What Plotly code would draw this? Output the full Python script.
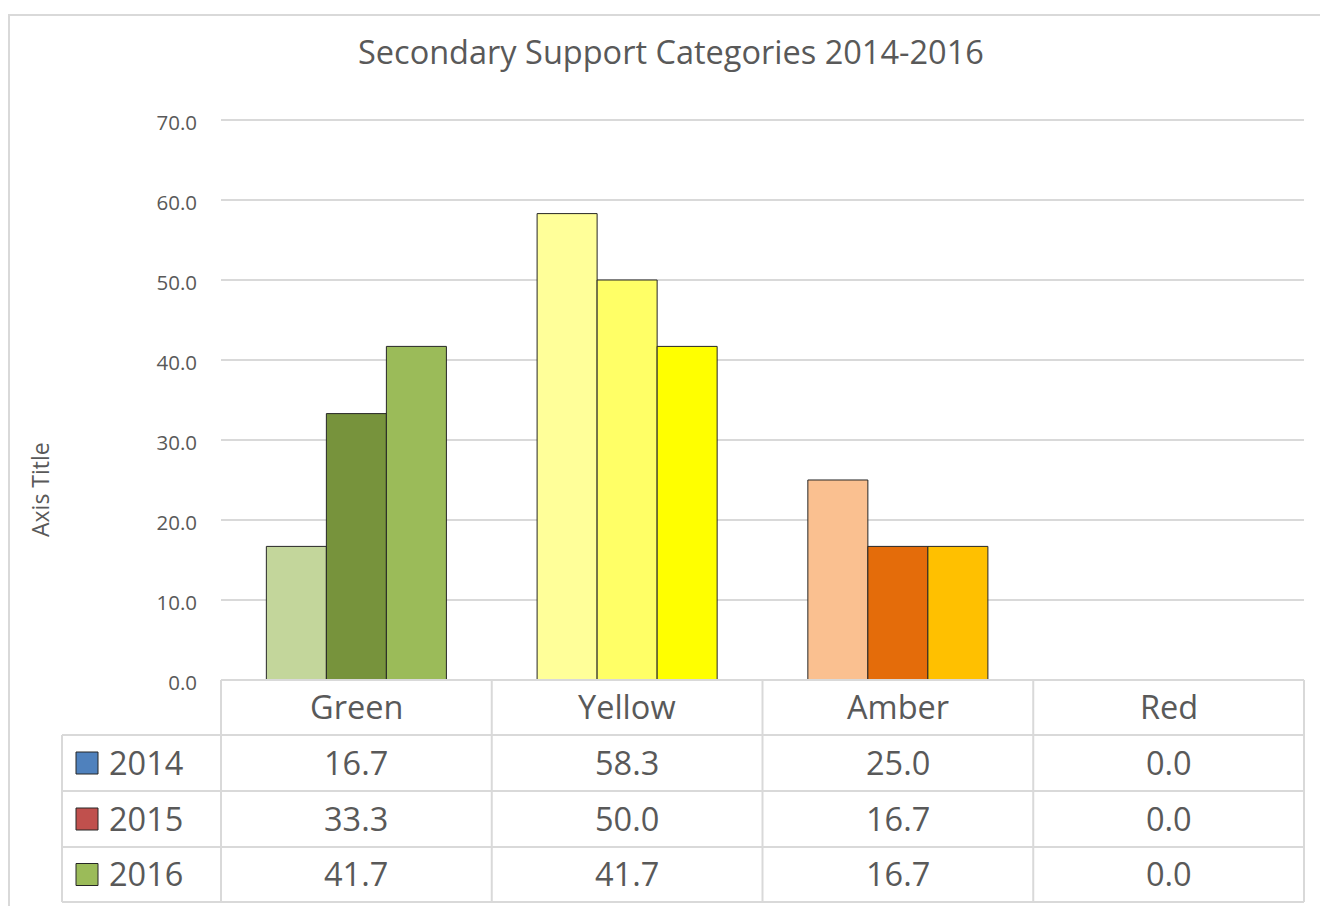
import plotly.graph_objects as go

# ---- data ----
categories = ["Green", "Yellow", "Amber", "Red"]
years = ["2014", "2015", "2016"]
values_2014 = [16.7, 58.3, 25.0, 0.0]
values_2015 = [33.3, 50.0, 16.7, 0.0]
values_2016 = [41.7, 41.7, 16.7, 0.0]
series = [values_2014, values_2015, values_2016]

# per-point colours (Excel "vary colours" look)
bar_colors = {
    "2014": ["#C3D69B", "#FFFF99", "#FAC090", "#FF9999"],
    "2015": ["#77933C", "#FFFF66", "#E46C0A", "#FF5050"],
    "2016": ["#9BBB59", "#FFFF00", "#FFC000", "#FF0000"],
}
legend_colors = ["#4F81BD", "#C0504D", "#9BBB59"]

title = "Secondary Support Categories 2014-2016"
y_title = "Axis Title"
y_ticks = [0, 10, 20, 30, 40, 50, 60, 70]

W, H = 1320, 906
FONT = "Open Sans"
TXT = "#595959"
GRID = "#D9D9D9"

def px(x):
    return x / W

def py(y):
    return 1 - y / H

plot_left, plot_right = 221, 1304
y70_px, plot_bottom = 120, 680
y_max = 70.6
plot_top = plot_bottom - y_max * (plot_bottom - y70_px) / 70.0

fig = go.Figure()
for yr, vals in zip(years, series):
    fig.add_trace(go.Bar(
        x=categories, y=vals, name=yr,
        marker=dict(color=bar_colors[yr],
                    line=dict(color="#262626", width=[1 if v > 0 else 0 for v in vals])),
        showlegend=False,
    ))

shapes = []
# outer chart border
shapes.append(dict(type="rect", xref="paper", yref="paper",
                   x0=px(9), x1=px(1330), y0=py(930), y1=py(15),
                   line=dict(color=GRID, width=2)))

# data table lines
col_w = (plot_right - plot_left) / len(categories)
row_lines = [680, 735, 791, 847, 902]
for i, yy in enumerate(row_lines):
    x0 = plot_left if i == 0 else 62
    shapes.append(dict(type="line", xref="paper", yref="paper",
                       x0=px(x0), x1=px(plot_right), y0=py(yy), y1=py(yy),
                       line=dict(color=GRID, width=2)))
shapes.append(dict(type="line", xref="paper", yref="paper",
                   x0=px(62), x1=px(62), y0=py(735), y1=py(902),
                   line=dict(color=GRID, width=2)))
for j in range(len(categories) + 1):
    xx = plot_left + j * col_w
    shapes.append(dict(type="line", xref="paper", yref="paper",
                       x0=px(xx), x1=px(xx), y0=py(680), y1=py(902),
                       line=dict(color=GRID, width=2)))

annotations = []
row_centers = [763, 819, 874.5]
TS = 32.5
for j, cat in enumerate(categories):
    cx = plot_left + (j + 0.5) * col_w
    annotations.append(dict(text=cat, xref="paper", yref="paper",
                            x=px(cx), y=py(706), showarrow=False,
                            xanchor="center", yanchor="middle",
                            font=dict(family=FONT, size=TS, color=TXT)))
    for r, vals in enumerate(series):
        annotations.append(dict(text=f"{vals[j]:.1f}", xref="paper", yref="paper",
                                x=px(cx), y=py(row_centers[r] - 1), showarrow=False,
                                xanchor="center", yanchor="middle",
                                font=dict(family=FONT, size=TS, color=TXT)))
for r, yr in enumerate(years):
    yc = row_centers[r]
    shapes.append(dict(type="rect", xref="paper", yref="paper",
                       x0=px(76), x1=px(98), y0=py(yc + 11), y1=py(yc - 11),
                       fillcolor=legend_colors[r], line=dict(color="#262626", width=1)))
    annotations.append(dict(text=yr, xref="paper", yref="paper",
                            x=px(107), y=py(yc - 1), showarrow=False,
                            xanchor="left", yanchor="middle",
                            font=dict(family=FONT, size=TS, color=TXT)))

annotations.append(dict(text=title, xref="paper", yref="paper",
                        x=px(671), y=py(52), showarrow=False,
                        xanchor="center", yanchor="middle",
                        font=dict(family=FONT, size=32.5, color=TXT)))
annotations.append(dict(text=y_title, xref="paper", yref="paper",
                        x=px(40), y=py(490), showarrow=False, textangle=-90,
                        xanchor="center", yanchor="middle",
                        font=dict(family=FONT, size=23, color=TXT)))

fig.update_layout(
    width=W, height=H,
    margin=dict(l=0, r=0, t=0, b=0, pad=0, autoexpand=False),
    paper_bgcolor="white", plot_bgcolor="white",
    barmode="group", bargap=0.335, bargroupgap=0,
    shapes=shapes, annotations=annotations,
    xaxis=dict(domain=[px(plot_left), px(plot_right)], showticklabels=False,
               showgrid=False, zeroline=False, showline=False, ticks="",
               automargin=False),
    yaxis=dict(domain=[py(plot_bottom), py(plot_top)], range=[0, y_max],
               tickvals=y_ticks, ticktext=[f"{v:.1f}" for v in y_ticks],
               showgrid=True, gridcolor=GRID, gridwidth=2, zeroline=False,
               showline=False, ticks="", ticklabelstandoff=23, ticklabelshift=3,
               automargin=False,
               tickfont=dict(family=FONT, size=20.5, color=TXT)),
)

fig.write_html(
    "out.html",
    config={"responsive": False, "displayModeBar": False},
    post_script=(
        "document.documentElement.style.overflow='hidden';"
        "document.body.style.margin='0';document.body.style.overflow='hidden';"
    ),
)
